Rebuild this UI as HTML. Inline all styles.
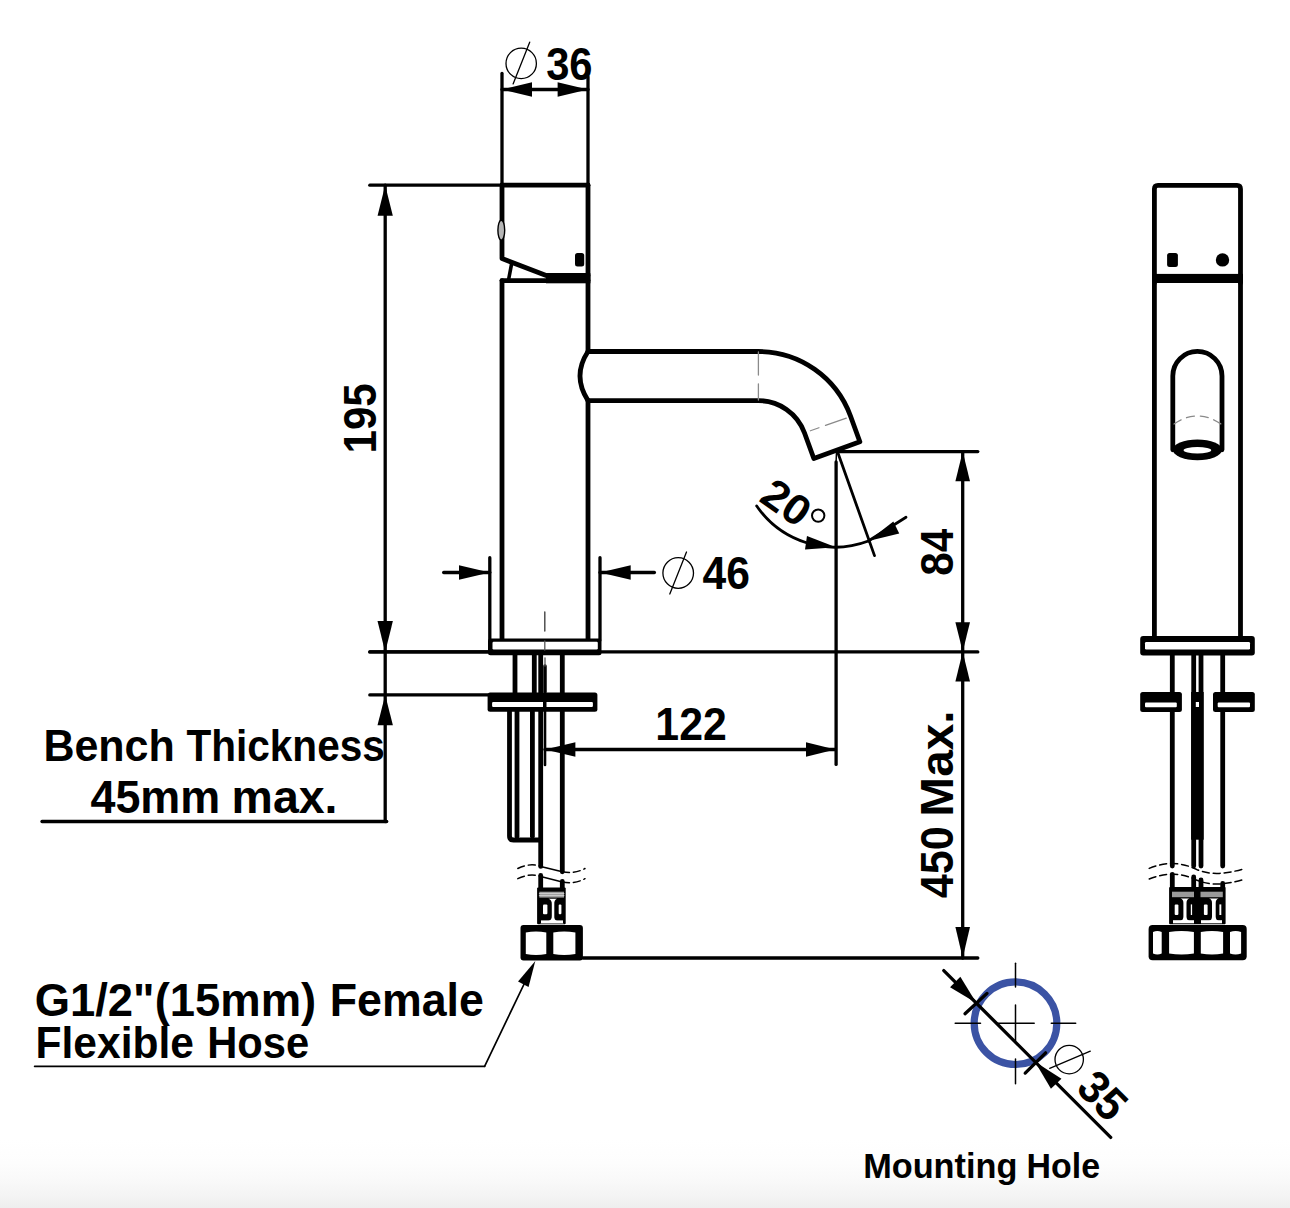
<!DOCTYPE html>
<html><head><meta charset="utf-8"><title>Faucet drawing</title><style>
html,body{margin:0;padding:0;background:#fff;}
body{width:1290px;height:1208px;overflow:hidden;position:relative;}
.bg{position:absolute;left:0;top:0;width:1290px;height:1208px;background:linear-gradient(to bottom,#fff 0,#fff 1140px,#fdfdfd 1163px,#f9f9f9 1180px,#f4f4f4 1195px,#eeeeee 1208px);}
svg{position:absolute;left:0;top:0;}
text{font-family:"Liberation Sans",sans-serif;font-weight:bold;fill:#000;}
</style></head><body><div class="bg"></div>
<svg width="1290" height="1208" viewBox="0 0 1290 1208" stroke-linecap="round">
<line x1="502" y1="73.5" x2="502" y2="185" stroke="#000" stroke-width="3.3" />
<line x1="588" y1="76.7" x2="588" y2="185" stroke="#000" stroke-width="3.3" />
<line x1="502" y1="89.5" x2="588" y2="89.5" stroke="#000" stroke-width="3.3" />
<polygon points="502,89.5 532,96.8 532,82.2" fill="#000"/>
<polygon points="588,89.5 557.6,82.2 557.6,96.8" fill="#000"/>
<circle cx="521.2" cy="63.4" r="15.2" fill="none" stroke="#000" stroke-width="1.3"/>
<line x1="529.7" y1="42.2" x2="513.1" y2="83.9" stroke="#000" stroke-width="1.3" />
<line x1="369.8" y1="185.2" x2="502" y2="185.2" stroke="#000" stroke-width="3.3" />
<line x1="385.2" y1="185.2" x2="385.2" y2="821.5" stroke="#000" stroke-width="3.3" />
<polygon points="385.2,185.2 377.6,215.7 392.8,215.7" fill="#000"/>
<polygon points="385.2,651.9 392.9,621 377.5,621" fill="#000"/>
<line x1="369.8" y1="651.9" x2="977.8" y2="651.9" stroke="#000" stroke-width="3.3" />
<line x1="369.8" y1="694.9" x2="488" y2="694.9" stroke="#000" stroke-width="3.3" />
<polygon points="385.2,694.9 377.5,725.3 392.9,725.3" fill="#000"/>
<line x1="42" y1="821.5" x2="386.7" y2="821.5" stroke="#000" stroke-width="3.3" />
<line x1="502" y1="185.2" x2="588" y2="185.2" stroke="#000" stroke-width="4.8" />
<polyline points="502,185 502,258.5 546.2,275.5 588,275.5" stroke="#000" stroke-width="4.8" fill="none" stroke-linejoin="round"/>
<line x1="588" y1="185" x2="588" y2="351.5" stroke="#000" stroke-width="4.8" />
<rect x="546" y="273.2" width="44.4" height="10.1" rx="0" fill="#000" />
<ellipse cx="501.3" cy="230.2" rx="3.4" ry="10" fill="#b5b5b5" stroke="#000" stroke-width="1.4"/>
<rect x="575" y="253" width="9.2" height="13.6" rx="2.5" fill="#000" />
<line x1="511.5" y1="264.4" x2="508.8" y2="278.5" stroke="#000" stroke-width="3.6" />
<line x1="502" y1="280.6" x2="588" y2="280.6" stroke="#000" stroke-width="4.8" />
<line x1="502" y1="280.6" x2="502" y2="638.5" stroke="#000" stroke-width="4.8" />
<line x1="588" y1="400.6" x2="588" y2="638.5" stroke="#000" stroke-width="4.8" />
<path d="M588,351.5 L758.4,351.5 A98,98 0 0 1 850.49,415.98 L859.86,441.73 L813.82,458.49 L804.44,432.74 A49,49 0 0 0 758.4,400.6 L588,400.6" stroke="#000" stroke-width="4.8" fill="none" stroke-linejoin="round"/>
<path d="M588,351.5 Q572,375.8 588,400.6" stroke="#000" stroke-width="4.8" fill="none" />
<line x1="758.4" y1="352" x2="758.4" y2="400" stroke="#8a8a8a" stroke-width="1.3" stroke-dasharray="23,9,30"/>
<line x1="810.44" y1="430.74" x2="849.49" y2="416.98" stroke="#8a8a8a" stroke-width="1.3" stroke-dasharray="9,7,22,30"/>
<line x1="489.8" y1="557.7" x2="489.8" y2="640" stroke="#000" stroke-width="3.3" />
<line x1="600" y1="557.7" x2="600" y2="640" stroke="#000" stroke-width="3.3" />
<line x1="443.7" y1="572.5" x2="489.8" y2="572.5" stroke="#000" stroke-width="3.3" />
<polygon points="489.8,572.5 459,565.2 459,579.8" fill="#000"/>
<line x1="600" y1="572.5" x2="654.4" y2="572.5" stroke="#000" stroke-width="3.3" />
<polygon points="600,572.5 630.7,579.8 630.7,565.2" fill="#000"/>
<circle cx="678.2" cy="573" r="15.3" fill="none" stroke="#000" stroke-width="1.3"/>
<line x1="686.5" y1="552" x2="669.8" y2="594" stroke="#000" stroke-width="1.3" />
<line x1="544.8" y1="612" x2="544.8" y2="631" stroke="#444" stroke-width="1.4" />
<line x1="515" y1="653" x2="515" y2="693" stroke="#000" stroke-width="4.8" />
<line x1="534.3" y1="653" x2="534.3" y2="693" stroke="#000" stroke-width="4.8" />
<line x1="540.7" y1="653" x2="540.7" y2="693" stroke="#000" stroke-width="4.8" />
<line x1="562.3" y1="653" x2="562.3" y2="693" stroke="#000" stroke-width="4.8" />
<line x1="545" y1="666" x2="545" y2="692" stroke="#000" stroke-width="3.5" />
<line x1="545" y1="658" x2="545" y2="666" stroke="#555" stroke-width="1.3" />
<rect x="488" y="638.5" width="113.5" height="16.8" rx="2.5" fill="#000" />
<rect x="492.5" y="641.8" width="105.3" height="7.6" rx="1.2" fill="#fff" />
<line x1="544.8" y1="641" x2="544.8" y2="650" stroke="#555" stroke-width="1.3" />
<line x1="369.8" y1="651.9" x2="488" y2="651.9" stroke="#000" stroke-width="3.3" />
<rect x="487.6" y="692.6" width="109.8" height="19.1" rx="2.5" fill="#000" />
<rect x="492.1" y="702.1" width="100.8" height="4.8" rx="1" fill="#fff" />
<rect x="543" y="702" width="3.5" height="5" rx="0" fill="#000" />
<path d="M509.5,711 L509.5,836 Q509.5,840 513.5,840 L540.7,840" stroke="#000" stroke-width="4.8" fill="none" stroke-linejoin="round"/>
<line x1="517" y1="711" x2="517" y2="836.5" stroke="#000" stroke-width="4.8" />
<line x1="532.4" y1="711" x2="532.4" y2="836.5" stroke="#000" stroke-width="4.8" />
<line x1="540.7" y1="711" x2="540.7" y2="866.4" stroke="#000" stroke-width="4.8" />
<line x1="562.3" y1="711" x2="562.3" y2="871.8" stroke="#000" stroke-width="4.8" />
<line x1="545" y1="711" x2="545" y2="764.9" stroke="#000" stroke-width="2.6" />
<line x1="545" y1="749.5" x2="835.3" y2="749.5" stroke="#000" stroke-width="3.3" />
<polygon points="545,749.5 575.4,756.8 575.4,742.2" fill="#000"/>
<polygon points="835.3,749.5 806,742.2 806,756.8" fill="#000"/>
<line x1="836.1" y1="462" x2="836.1" y2="764.4" stroke="#000" stroke-width="3.3" />
<line x1="836.5" y1="452" x2="836.1" y2="462" stroke="#000" stroke-width="1.5" />
<line x1="837.7" y1="452.3" x2="874.5" y2="555.6" stroke="#000" stroke-width="2.8" />
<path d="M756.7,506 A95,95 0 0 0 868.4,541" stroke="#000" stroke-width="2.8" fill="none" />
<line x1="868.4" y1="541" x2="906" y2="517.2" stroke="#000" stroke-width="2.8" />
<polygon points="836,547.2 806.99,536.07 805.01,549.53" fill="#000"/>
<polygon points="868.4,541 899.26,533.62 893.34,521.38" fill="#000"/>
<circle cx="818.2" cy="515.6" r="6.2" fill="none" stroke="#000" stroke-width="2"/>
<line x1="837" y1="451.6" x2="977.8" y2="451.6" stroke="#000" stroke-width="3.3" />
<line x1="962.7" y1="451.6" x2="962.7" y2="958" stroke="#000" stroke-width="3.3" />
<polygon points="962.7,451.6 955.4,481.3 970,481.3" fill="#000"/>
<polygon points="962.7,651.8 970,622.3 955.4,622.3" fill="#000"/>
<polygon points="962.7,651.8 955.4,681.6 970,681.6" fill="#000"/>
<polygon points="962.7,958 970,927 955.4,927" fill="#000"/>
<line x1="583" y1="958" x2="977.8" y2="958" stroke="#000" stroke-width="3.3" />
<path d="M517.8,868.5 Q530,862.5 540.7,866.4" stroke="#000" stroke-width="1.5" fill="none" stroke-dasharray="7,4"/>
<line x1="540.7" y1="866.4" x2="562.3" y2="871.8" stroke="#000" stroke-width="1.5" />
<path d="M562.3,871.8 Q575,874 585,868.5" stroke="#000" stroke-width="1.5" fill="none" stroke-dasharray="7,4"/>
<path d="M517.8,878.7 Q530,872.7 540.7,876.6" stroke="#000" stroke-width="1.5" fill="none" stroke-dasharray="7,4"/>
<line x1="540.7" y1="876.6" x2="562.3" y2="882" stroke="#000" stroke-width="1.5" />
<path d="M562.3,882 Q575,884.2 585,878.7" stroke="#000" stroke-width="1.5" fill="none" stroke-dasharray="7,4"/>
<line x1="540.7" y1="875.5" x2="540.7" y2="888" stroke="#000" stroke-width="4.8" />
<line x1="562.3" y1="881.4" x2="562.3" y2="888" stroke="#000" stroke-width="4.8" />
<rect x="537.1" y="887.4" width="28.6" height="36.8" rx="1" fill="#000" />
<rect x="539.3" y="891.7" width="24.7" height="5.9" rx="0" fill="#9a9a9a" />
<line x1="539.3" y1="893.6" x2="564" y2="893.6" stroke="#ddd" stroke-width="0.8" />
<line x1="539.3" y1="895.6" x2="564" y2="895.6" stroke="#ddd" stroke-width="0.8" />
<rect x="543" y="904.6" width="4.4" height="9.7" rx="1" fill="#fff" />
<rect x="558.7" y="904.6" width="2.7" height="9.7" rx="1" fill="#fff" />
<path d="M548.5,898.8 Q552,900 551.8,904 L551.8,916 Q552,920 548.5,921 L557,921 Q554,920 554.3,916 L554.3,904 Q554,900 557,898.8 Z" stroke="#000" stroke-width="0" fill="#fff" />
<rect x="541" y="920.4" width="22" height="2.8" rx="0" fill="#fff" />
<line x1="541" y1="923.6" x2="563" y2="923.6" stroke="#888" stroke-width="1" />
<rect x="520.5" y="925" width="62.4" height="35.6" rx="3" fill="#000" />
<path d="M525.8,932.5 Q536,930.5 546.3,932.5 L546.3,954 Q536,956 525.8,954 Z" stroke="#000" stroke-width="0" fill="#fff" />
<path d="M553.3,932.5 Q564,930.5 575.4,932.5 L575.4,954 Q564,956 553.3,954 Z" stroke="#000" stroke-width="0" fill="#fff" />
<line x1="34.6" y1="1066.3" x2="484.6" y2="1066.3" stroke="#000" stroke-width="1.7" />
<line x1="484.6" y1="1066.3" x2="527" y2="978" stroke="#000" stroke-width="1.7" />
<polygon points="535.3,960.9 518.05,981.61 528.55,986.99" fill="#000"/>
<path d="M1154.4,283 L1154.4,189 Q1154.4,185.3 1158,185.3 L1237,185.3 Q1240.5,185.3 1240.5,189 L1240.5,283" stroke="#000" stroke-width="4.8" fill="none" />
<rect x="1152" y="273.9" width="91" height="9.1" rx="0" fill="#000" />
<rect x="1167.1" y="252.9" width="10.8" height="14" rx="2.5" fill="#000" />
<circle cx="1222.5" cy="259.9" r="6.7" fill="#000"/>
<line x1="1154.4" y1="283" x2="1154.4" y2="638" stroke="#000" stroke-width="4.8" />
<line x1="1240.5" y1="283" x2="1240.5" y2="638" stroke="#000" stroke-width="4.8" />
<path d="M1172.8,449.8 L1172.8,376 A24.6,24.6 0 0 1 1222,376 L1222,449.8" stroke="#000" stroke-width="4.8" fill="none" />
<ellipse cx="1197.4" cy="449.8" rx="24.6" ry="10.4" fill="#000"/>
<ellipse cx="1197.4" cy="450.3" rx="13.8" ry="3.2" fill="#fff"/>
<path d="M1174,424 Q1197.4,408 1221,424" stroke="#8a8a8a" stroke-width="1.3" fill="none" stroke-dasharray="8,6"/>
<line x1="1172.3" y1="655" x2="1172.3" y2="866" stroke="#000" stroke-width="4.8" />
<line x1="1193.7" y1="655" x2="1193.7" y2="866" stroke="#000" stroke-width="4.8" />
<line x1="1201" y1="655" x2="1201" y2="866" stroke="#000" stroke-width="4.8" />
<line x1="1222.7" y1="655" x2="1222.7" y2="866" stroke="#000" stroke-width="4.8" />
<rect x="1191.1" y="692" width="12.6" height="147.7" rx="0" fill="#000" />
<rect x="1140.2" y="636" width="114.6" height="19.4" rx="3" fill="#000" />
<rect x="1145" y="642" width="105" height="7.5" rx="1.2" fill="#fff" />
<rect x="1140.2" y="692" width="41.7" height="19.9" rx="2.5" fill="#000" />
<rect x="1145" y="702.6" width="31.8" height="4.6" rx="1" fill="#fff" />
<rect x="1213" y="692" width="41.8" height="19.9" rx="2.5" fill="#000" />
<rect x="1217.7" y="702.6" width="32.3" height="4.6" rx="1" fill="#fff" />
<rect x="1195.8" y="702" width="3.2" height="5" rx="0" fill="#fff" />
<path d="M1149.2,868.4 Q1160,864 1171,863.5 Q1185,863.5 1197,869.7 Q1208,874 1219.4,873.4 Q1232,872.5 1245.5,868.4" stroke="#000" stroke-width="1.5" fill="none" stroke-dasharray="7,4"/>
<path d="M1149.2,879 Q1160,874.6 1171,874.1 Q1185,874.1 1197,880.3 Q1208,884.6 1219.4,884 Q1232,883.1 1245.5,879" stroke="#000" stroke-width="1.5" fill="none" stroke-dasharray="7,4"/>
<line x1="1172.3" y1="874.5" x2="1172.3" y2="888" stroke="#000" stroke-width="4.8" />
<line x1="1193.7" y1="877" x2="1193.7" y2="888" stroke="#000" stroke-width="4.8" />
<line x1="1201" y1="880" x2="1201" y2="888" stroke="#000" stroke-width="4.8" />
<line x1="1222.7" y1="883.5" x2="1222.7" y2="888" stroke="#000" stroke-width="4.8" />
<rect x="1169.1" y="887" width="56.5" height="37.3" rx="1" fill="#000" />
<rect x="1172" y="891.7" width="22" height="5.5" rx="0" fill="#9a9a9a" />
<rect x="1200.5" y="891.7" width="22.3" height="5.5" rx="0" fill="#9a9a9a" />
<rect x="1174.7" y="904.4" width="3.7" height="10.6" rx="1" fill="#fff" />
<rect x="1190.8" y="904.4" width="1.3" height="10.6" rx="0" fill="#fff" />
<rect x="1203.9" y="904.4" width="3.7" height="10.6" rx="1" fill="#fff" />
<rect x="1219.4" y="904.4" width="1.9" height="10.6" rx="0" fill="#fff" />
<path d="M1180.4,898.6 Q1183.4,899.5 1183.4,903 L1183.4,916.5 Q1183.4,920 1180.4,921 L1189.5,921 Q1186.5,920 1186.5,916.5 L1186.5,903 Q1186.5,899.5 1189.5,898.6 Z" stroke="#000" stroke-width="0" fill="#fff" />
<path d="M1209,898.6 Q1212,899.5 1212,903 L1212,916.5 Q1212,920 1209,921 L1218.7,921 Q1215.7,920 1215.7,916.5 L1215.7,903 Q1215.7,899.5 1218.7,898.6 Z" stroke="#000" stroke-width="0" fill="#fff" />
<rect x="1173" y="920.2" width="21" height="3.1" rx="0" fill="#fff" />
<rect x="1201" y="920.2" width="21" height="3.1" rx="0" fill="#fff" />
<rect x="1148.6" y="925" width="98.1" height="35.3" rx="4" fill="#000" />
<path d="M1153,932 Q1157.35,930 1161.7,932 L1161.7,953.5 Q1157.35,955.5 1153,953.5 Z" stroke="#000" stroke-width="0" fill="#fff" />
<path d="M1169.1,932 Q1181.5,930 1193.9,932 L1193.9,953.5 Q1181.5,955.5 1169.1,953.5 Z" stroke="#000" stroke-width="0" fill="#fff" />
<path d="M1200.8,932 Q1211.9499999999998,930 1223.1,932 L1223.1,953.5 Q1211.9499999999998,955.5 1200.8,953.5 Z" stroke="#000" stroke-width="0" fill="#fff" />
<path d="M1230,932 Q1235.55,930 1241.1,932 L1241.1,953.5 Q1235.55,955.5 1230,953.5 Z" stroke="#000" stroke-width="0" fill="#fff" />
<circle cx="1015.5" cy="1023.2" r="41.3" fill="none" stroke="#3b53a4" stroke-width="7.2"/>
<line x1="1015.5" y1="963.3" x2="1015.5" y2="987" stroke="#000" stroke-width="1.5" />
<line x1="1015.5" y1="1005" x2="1015.5" y2="1041" stroke="#000" stroke-width="1.5" />
<line x1="1015.5" y1="1059" x2="1015.5" y2="1083.7" stroke="#000" stroke-width="1.5" />
<line x1="955.2" y1="1023.2" x2="980.5" y2="1023.2" stroke="#000" stroke-width="1.5" />
<line x1="997.6" y1="1023.2" x2="1034.2" y2="1023.2" stroke="#000" stroke-width="1.5" />
<line x1="1051.3" y1="1023.2" x2="1075.7" y2="1023.2" stroke="#000" stroke-width="1.5" />
<line x1="943.8" y1="970.6" x2="1110.7" y2="1137.4" stroke="#000" stroke-width="3.3" />
<line x1="965" y1="1013.7" x2="987" y2="993.4" stroke="#000" stroke-width="3.3" />
<line x1="1025.2" y1="1073.1" x2="1045.6" y2="1052.8" stroke="#000" stroke-width="3.3" />
<polygon points="976.4,1003.1 960.35,976.83 950.05,987.17" fill="#000"/>
<polygon points="1035,1061.7 1050.94,1088.77 1061.46,1078.63" fill="#000"/>
<circle cx="1069.2" cy="1059.6" r="14.2" fill="none" stroke="#000" stroke-width="1.3"/>
<line x1="1049.7" y1="1068.3" x2="1090.3" y2="1051.2" stroke="#000" stroke-width="1.3" />
<text font-size="100" transform="translate(569.1,64.4) rotate(0) scale(0.4170,0.4592) translate(-55,34.5)">36</text>
<text font-size="100" transform="translate(360.3,417.7) rotate(-90) scale(0.4203,0.4563) translate(-85,34.5)">195</text>
<text font-size="100" transform="translate(109.2,745.45) rotate(0) scale(0.4299,0.4507) translate(-153,34.5)">Bench</text>
<text font-size="100" transform="translate(285,745.45) rotate(0) scale(0.4058,0.4507) translate(-243,34.5)">Thickness</text>
<text font-size="100" transform="translate(154.2,797) rotate(0) scale(0.4489,0.4551) translate(-142,34.5)">45mm</text>
<text font-size="100" transform="translate(284.6,797) rotate(0) scale(0.4648,0.4551) translate(-114,34.5)">max.</text>
<text font-size="100" transform="translate(725.7,573.4) rotate(0) scale(0.4262,0.4620) translate(-54.5,34.5)">46</text>
<text font-size="100" transform="translate(691.5,724.05) rotate(0) scale(0.4280,0.4529) translate(-84.5,35)">122</text>
<text font-size="100" transform="translate(937.45,551.75) rotate(-90) scale(0.4231,0.4634) translate(-57,34.5)">84</text>
<text font-size="100" transform="translate(937.35,862.9) rotate(-90) scale(0.4321,0.4549) translate(-82,34.5)">450</text>
<text font-size="100" transform="translate(937.35,763.6) rotate(-90) scale(0.4781,0.4549) translate(-111,34.5)">Max.</text>
<text font-size="100" transform="translate(175.25,1000.4) rotate(0) scale(0.4542,0.4551) translate(-309.5,34.5)">G1/2&quot;(15mm)</text>
<text font-size="100" transform="translate(407.3,1000.4) rotate(0) scale(0.4472,0.4551) translate(-173.5,34.5)">Female</text>
<text font-size="100" transform="translate(115.35,1042.65) rotate(0) scale(0.4256,0.4420) translate(-187.5,34.5)">Flexible</text>
<text font-size="100" transform="translate(258.75,1042.65) rotate(0) scale(0.4174,0.4420) translate(-123.5,34.5)">Hose</text>
<text font-size="100" transform="translate(940.15,1166.05) rotate(0) scale(0.3430,0.3493) translate(-224.5,34.5)">Mounting</text>
<text font-size="100" transform="translate(1063.7,1166.05) rotate(0) scale(0.3391,0.3493) translate(-109.5,34.5)">Hole</text>
<text font-size="100" transform="translate(1102.75,1095.5) rotate(45) scale(0.4299,0.4577) translate(-55.5,34.5)">35</text>
<text font-size="100" transform="translate(786.1,502.4) rotate(35) scale(0.4413,0.4254) translate(-55,34.5)">20</text>
</svg></body></html>
